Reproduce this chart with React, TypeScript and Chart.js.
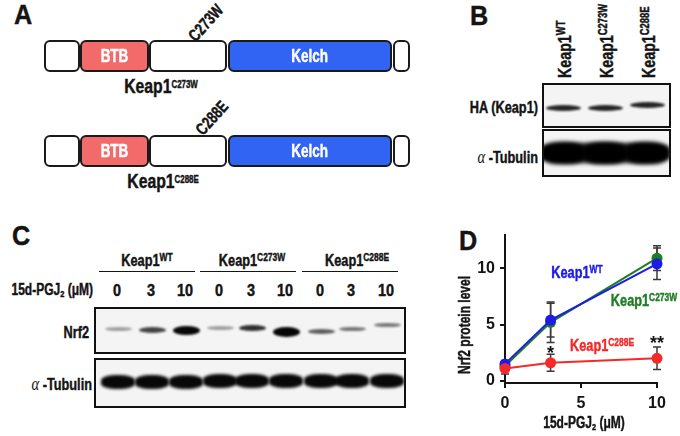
import React, { useEffect, useRef } from 'react';
import { Chart, registerables } from 'chart.js';

Chart.register(...registerables);

const FONT = "'Liberation Sans',Arial,'DejaVu Sans',sans-serif";
const SQ = 0.75; // horizontal squeeze to mimic a condensed face
const STROKE = '0.45px';
const INK = '#141414';
const BLUE = '#1c1ce6';
const GREEN = '#1f7d22';
const RED = '#f42a2a';

// ---- Panel D data ----
const doses = [0, 3, 10];
const wtMean = [1.5, 5.4, 10.4];
const wtErr = [0.3, 1.5, 1.4];
const c273wMean = [1.3, 5.2, 10.9];
const c273wErr = [0.3, 1.8, 1.1];
const c288eMean = [1.1, 1.6, 2.0];
const c288eErr = [0.5, 0.75, 1.0];
const xTicks = [0, 5, 10];
const yTicks = [0, 5, 10];
const sigDoses = [3, 10];
const sigLabels = ['*', '**'];
const sigLevels = [2.85, 3.75];

// ---- Panel C blot ----
const laneLabels = ['0', '3', '10', '0', '3', '10', '0', '3', '10'];
const laneX = [117, 151, 185, 219, 251, 285, 320, 351, 386];
const nrf2Dark = [0.35, 0.72, 0.97, 0.35, 0.8, 0.98, 0.62, 0.52, 0.5];
const nrf2Thick = [4, 6, 9, 4, 6.5, 10, 5, 4.5, 4.5];
const nrf2Y = [329, 330, 330, 328, 328, 332, 331, 329, 325];

// ---- Panel B blot ----
const bLaneX = [563, 605, 647];
const bLabels = ['WT', 'C273W', 'C288E'];
const haY = [108, 108, 105];

const T = ({ x, y, children, size = 16, color = INK, rot = 0, sq = SQ, anchor = 'center', style = {} }: any) => (
  <div
    style={{
      position: 'absolute', left: x, top: y,
      transformOrigin: anchor === 'right' ? '100% 50%' : '50% 50%',
      transform: `translate(${anchor === 'right' ? '-100%' : '-50%'},-50%) rotate(${rot}deg) scaleX(${sq})`,
      fontFamily: FONT, fontWeight: 700, fontSize: size, color,
      WebkitTextStroke: `${STROKE} ${color}`,
      lineHeight: 1, whiteSpace: 'nowrap', ...style,
    }}
  >
    {children}
  </div>
);

const Sup = ({ children }: any) => (
  <span style={{ fontSize: '0.66em', verticalAlign: '0.42em' }}>{children}</span>
);

const Sub = ({ children }: any) => (
  <span style={{ fontSize: '0.62em', verticalAlign: '-0.2em' }}>{children}</span>
);

const Seg = ({ x1, x2, top, fill, text }: any) => (
  <div
    style={{
      position: 'absolute', left: x1, top, width: x2 - x1, height: 32,
      boxSizing: 'border-box', border: '2px solid #1a1a1a', borderRadius: 6,
      background: fill, display: 'flex', alignItems: 'center', justifyContent: 'center',
      color: '#fff', fontFamily: FONT, fontWeight: 700, fontSize: 18,
      WebkitTextStroke: `${STROKE} #fff`,
    }}
  >
    {text ? <span style={{ display: 'inline-block', transform: `scaleX(${SQ})`, marginTop: 2 }}>{text}</span> : null}
  </div>
);

const DomainBar = ({ top }: any) => (
  <>
    <Seg x1={44} x2={79.5} top={top} fill="#fff" />
    <Seg x1={80} x2={148.5} top={top} fill="#f26a6a" text="BTB" />
    <Seg x1={149} x2={227} top={top} fill="#fff" />
    <Seg x1={227.5} x2={392} top={top} fill="#3264f4" text="Kelch" />
    <Seg x1={392.5} x2={410} top={top} fill="#fff" />
  </>
);

const Band = ({ x, y, w, h, a, blur = 1.4, r = '50%' }: any) => (
  <div
    style={{
      position: 'absolute', left: x - w / 2, top: y - h / 2, width: w, height: h,
      borderRadius: r, background: `rgba(0,0,0,${a})`, filter: `blur(${blur}px)`,
    }}
  />
);

const Box = ({ x1, y1, x2, y2, children }: any) => (
  <div
    style={{
      position: 'absolute', left: x1, top: y1, width: x2 - x1, height: y2 - y1,
      boxSizing: 'border-box', border: '2px solid #111', background: '#f4f4f4', overflow: 'hidden',
    }}
  >
    <div style={{ position: 'absolute', left: -x1 - 2, top: -y1 - 2 }}>{children}</div>
  </div>
);

const Alpha = () => (
  <span style={{ fontFamily: "'Liberation Serif','DejaVu Serif',serif", fontStyle: 'italic', fontWeight: 400, fontSize: '1.15em', WebkitTextStroke: '0px' }}>α</span>
);

const VText = ({ x, bottom, children, size = 19 }: any) => (
  <div
    style={{
      position: 'absolute', left: x, top: bottom,
      transformOrigin: '0 0', transform: `rotate(-90deg) translateY(-50%) scaleX(${SQ})`,
      fontFamily: FONT, fontWeight: 700, fontSize: size, color: INK, lineHeight: 1, whiteSpace: 'nowrap',
      WebkitTextStroke: `${STROKE} ${INK}`,
    }}
  >
    {children}
  </div>
);

const errorBarPlugin = {
  id: 'errorBars',
  beforeDatasetsDraw(chart: any) {
    const { ctx } = chart;
    const xs = chart.scales.x;
    const ys = chart.scales.y;
    ctx.save();
    ctx.strokeStyle = '#3a3a3a';
    ctx.lineWidth = 1.5;
    chart.data.datasets.forEach((ds: any) => {
      ds.data.forEach((p: any, i: number) => {
        const e = ds.errors[i];
        const px = xs.getPixelForValue(p.x);
        const top = ys.getPixelForValue(p.y + e);
        const bot = ys.getPixelForValue(p.y - e);
        ctx.beginPath();
        ctx.moveTo(px, top); ctx.lineTo(px, bot);
        ctx.moveTo(px - 4, top); ctx.lineTo(px + 4, top);
        ctx.moveTo(px - 4, bot); ctx.lineTo(px + 4, bot);
        ctx.stroke();
      });
    });
    ctx.restore();
  },
  afterDatasetsDraw(chart: any) {
    const { ctx } = chart;
    const xs = chart.scales.x;
    const ys = chart.scales.y;
    ctx.save();
    ctx.fillStyle = INK;
    ctx.font = `bold 18px ${FONT}`;
    ctx.textAlign = 'center';
    ctx.textBaseline = 'alphabetic';
    sigDoses.forEach((d, i) => {
      ctx.fillText(sigLabels[i], xs.getPixelForValue(d), ys.getPixelForValue(sigLevels[i]) + 10);
    });
    ctx.restore();
  },
};

function NrfChart() {
  const ref = useRef<HTMLCanvasElement>(null);
  useEffect(() => {
    const mk = (label: string, mean: number[], err: number[], color: string) => ({
      label,
      data: doses.map((d, i) => ({ x: d, y: mean[i] })),
      errors: err,
      borderColor: color,
      backgroundColor: color,
      pointBackgroundColor: color,
      pointBorderColor: color,
      borderWidth: 2,
      pointRadius: 5.5,
      pointBorderWidth: 0,
      tension: 0,
      clip: false,
    });
    const axisCommon = {
      grid: { drawOnChartArea: false, drawTicks: true, tickLength: 5, color: INK, lineWidth: 2 },
      border: { display: true, color: INK, width: 2 },
    };
    const tickFont = { family: FONT, size: 16, weight: 'bold' };
    const chart = new Chart(ref.current!, {
      type: 'line',
      data: {
        datasets: [
          mk('Keap1 C288E', c288eMean, c288eErr, RED),
          mk('Keap1 WT', wtMean, wtErr, BLUE),
          mk('Keap1 C273W', c273wMean, c273wErr, GREEN),
        ] as any,
      },
      options: {
        animation: false,
        responsive: false,
        layout: { padding: { left: 0, right: 23, top: 12, bottom: 0 } },
        plugins: { legend: { display: false }, tooltip: { enabled: false } },
        scales: {
          x: {
            type: 'linear', min: 0, max: 10,
            afterBuildTicks: (s: any) => { s.ticks = xTicks.map((v) => ({ value: v })); },
            afterFit: (s: any) => { s.height = 53; },
            ...axisCommon,
            ticks: { font: tickFont, color: INK, padding: 6, maxRotation: 0 },
          },
          y: {
            type: 'linear', min: -0.2, max: 13,
            afterBuildTicks: (s: any) => { s.ticks = yTicks.map((v) => ({ value: v })); },
            afterFit: (s: any) => { s.width = 75; },
            ...axisCommon,
            ticks: { font: tickFont, color: INK, padding: 5 },
          },
        } as any,
      },
      plugins: [errorBarPlugin],
    });
    return () => chart.destroy();
  }, []);
  return <canvas ref={ref} width={250} height={216} style={{ position: 'absolute', left: 430, top: 220, width: 250, height: 216 }} />;
}

export default function App() {
  return (
    <div style={{ position: 'absolute', left: 0, top: 0, width: 680, height: 436, background: '#fff', overflow: 'hidden' }}>
      {/* Panel A */}
      <T x={22.5} y={15} size={28} sq={0.9}>A</T>
      <DomainBar top={39.5} />
      <T x={206} y={23} size={17} rot={-48}>C273W</T>
      <T x={161} y={85}>
        <span style={{ fontSize: 21 }}>Keap1</span><Sup>C273W</Sup>
      </T>
      <DomainBar top={134.5} />
      <T x={212} y={118} size={17} rot={-48}>C288E</T>
      <T x={163} y={180}>
        <span style={{ fontSize: 21 }}>Keap1</span><Sup>C288E</Sup>
      </T>

      {/* Panel B */}
      <T x={478.5} y={16} size={28} sq={0.9}>B</T>
      {bLabels.map((l, i) => (
        <VText key={l} x={bLaneX[i] + 1} bottom={78} size={19}>
          Keap1<Sup>{l}</Sup>
        </VText>
      ))}
      <Box x1={541.5} y1={83} x2={671} y2={128}>
        {bLaneX.map((x, i) => (
          <Band key={i} x={x} y={haY[i]} w={35} h={6} a={0.85} blur={1.3} />
        ))}
      </Box>
      <Box x1={541.5} y1={128.5} x2={671} y2={177}>
        <Band x={605} y={153} w={130} h={20} a={0.9} blur={2} r="30%" />
        {bLaneX.map((x, i) => (
          <Band key={i} x={x} y={153} w={44} h={22} a={1} blur={2} r="40%" />
        ))}
      </Box>
      <T x={538} y={107} size={17} anchor="right">HA (Keap1)</T>
      <T x={538} y={157} size={17} anchor="right"><Alpha /> -Tubulin</T>

      {/* Panel C */}
      <T x={21} y={236} size={28} sq={0.9}>C</T>
      <T x={146.5} y={260} size={17}>Keap1<Sup>WT</Sup></T>
      <T x={252} y={260} size={17}>Keap1<Sup>C273W</Sup></T>
      <T x={357} y={260} size={17}>Keap1<Sup>C288E</Sup></T>
      {[[99, 195], [200, 296], [301.5, 397.5]].map(([a, b], i) => (
        <div key={i} style={{ position: 'absolute', left: a, top: 270.5, width: b - a, height: 1.5, background: INK }} />
      ))}
      <T x={93} y={290} size={16} anchor="right">15d-PGJ<Sub>2</Sub> (μM)</T>
      {laneLabels.map((l, i) => (
        <T key={i} x={laneX[i]} y={290} size={17} sq={0.85}>{l}</T>
      ))}
      <Box x1={94} y1={307} x2={406} y2={354}>
        {laneX.map((x, i) => (
          <Band key={i} x={x + 1} y={nrf2Y[i]} w={27} h={nrf2Thick[i]} a={nrf2Dark[i]} blur={1.3} />
        ))}
      </Box>
      <Box x1={94} y1={357.5} x2={406} y2={408}>
        {laneX.map((x, i) => (
          <Band key={i} x={x + 1} y={382 - (i > 2 ? 1 : 0)} w={34} h={14} a={0.97} blur={1.6} r="40%" />
        ))}
      </Box>
      <T x={89} y={332} size={17} anchor="right">Nrf2</T>
      <T x={92} y={384} size={17} anchor="right"><Alpha /> -Tubulin</T>

      {/* Panel D */}
      <T x={468} y={241} size={28} sq={0.9}>D</T>
      <NrfChart />
      <T x={465} y={325} size={16} rot={-90}>Nrf2 protein level</T>
      <T x={584} y={423} size={16}>15d-PGJ<Sub>2</Sub> (μM)</T>
      <T x={577} y={272} size={17} color={BLUE}>Keap1<Sup>WT</Sup></T>
      <T x={644} y={300} size={17} color={GREEN}>Keap1<Sup>C273W</Sup></T>
      <T x={602} y={345} size={17} color={RED}>Keap1<Sup>C288E</Sup></T>
    </div>
  );
}
